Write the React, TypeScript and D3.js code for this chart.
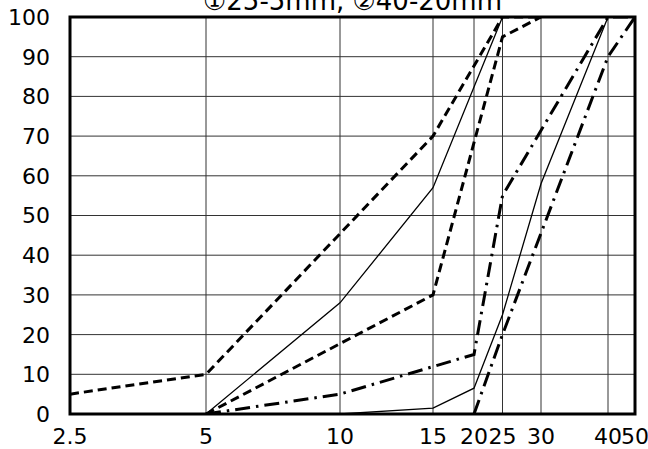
import React from "react";
import * as d3 from "d3";

// sieve sizes (mm) on the x axis
const sieves = [2.5, 5, 10, 15, 20, 25, 30, 40, 50];
const yTicks = [0, 10, 20, 30, 40, 50, 60, 70, 80, 90, 100];

// ① 25-5mm
const upper1Size = [2.5, 5, 15, 25, 30];
const upper1Pass = [5, 10, 70, 100, 100];
const lower1Size = [5, 15, 25, 30];
const lower1Pass = [0, 30, 95, 100];
const meas1Size = [5, 10, 15, 25];
const meas1Pass = [0, 28, 57, 100];

// ② 40-20mm
const upper2Size = [5, 10, 20, 25, 40, 50];
const upper2Pass = [0, 5, 15, 55, 100, 100];
const lower2Size = [20, 25, 40, 50];
const lower2Pass = [0, 20, 90, 100];
const meas2Size = [10, 15, 20, 25, 30, 40];
const meas2Pass = [0, 1.5, 6.5, 25, 58, 100];

const title = "①25-5mm, ②40-20mm";

const W = 648;
const H = 449;
const left = 70;
const right = 635;
const top = 17;
const bottom = 414;

// grid columns of the original sheet are not evenly spaced on any simple scale
const xStops = [70, 206, 340, 433, 474, 502.5, 541, 608, 635];

const x = d3.scaleLinear<number>().domain(sieves).range(xStops);
const y = d3.scaleLinear().domain([0, 100]).range([bottom, top]);

const line = d3
  .line<[number, number]>()
  .x((d) => x(d[0]))
  .y((d) => y(d[1]));

const zip = (a: number[], b: number[]) =>
  a.map((v, i) => [v, b[i]] as [number, number]);

const series = [
  { pts: zip(upper1Size, upper1Pass), dash: "9,5", w: 3 },
  { pts: zip(lower1Size, lower1Pass), dash: "9,5", w: 3 },
  { pts: zip(meas1Size, meas1Pass), dash: "", w: 1.3 },
  { pts: zip(upper2Size, upper2Pass), dash: "15,6,2.5,6", w: 3 },
  { pts: zip(lower2Size, lower2Pass), dash: "15,6,2.5,6", w: 3 },
  { pts: zip(meas2Size, meas2Pass), dash: "", w: 1.3 },
];

const font = "'DejaVu Sans', 'Noto Sans CJK JP', sans-serif";

export default function App() {
  return (
    <svg
      width={W}
      height={H}
      style={{ position: "absolute", left: 0, top: 0, background: "#fff" }}
      fontFamily={font}
    >
      <rect width={W} height={H} fill="#fff" />
      <defs>
        <clipPath id="plot">
          <rect x={left} y={top} width={right - left} height={bottom - top} />
        </clipPath>
      </defs>
      {yTicks.map((t) => (
        <line
          key={"h" + t}
          x1={left}
          x2={right}
          y1={y(t)}
          y2={y(t)}
          stroke="#333"
          strokeWidth={1}
        />
      ))}
      {sieves.map((s) => (
        <line
          key={"v" + s}
          x1={x(s)}
          x2={x(s)}
          y1={top}
          y2={bottom}
          stroke="#333"
          strokeWidth={1}
        />
      ))}
      <g clipPath="url(#plot)">
        {series.map((s, i) => (
          <path
            key={i}
            d={line(s.pts) || ""}
            fill="none"
            stroke="#000"
            strokeWidth={s.w}
            strokeDasharray={s.dash || undefined}
          />
        ))}
      </g>
      <rect
        x={left}
        y={top}
        width={right - left}
        height={bottom - top}
        fill="none"
        stroke="#000"
        strokeWidth={3}
      />
      {yTicks.map((t) => (
        <text
          key={"yl" + t}
          x={50}
          y={y(t)}
          dy="0.36em"
          textAnchor="end"
          fontSize={22}
          fill="#000"
        >
          {t}
        </text>
      ))}
      {sieves.map((s) => (
        <text
          key={"xl" + s}
          x={x(s)}
          y={444}
          textAnchor="middle"
          fontSize={22}
          fill="#000"
        >
          {s}
        </text>
      ))}
      <text
        x={(left + right) / 2}
        y={10}
        textAnchor="middle"
        fontSize={26}
        fill="#000"
      >
        {title}
      </text>
    </svg>
  );
}
